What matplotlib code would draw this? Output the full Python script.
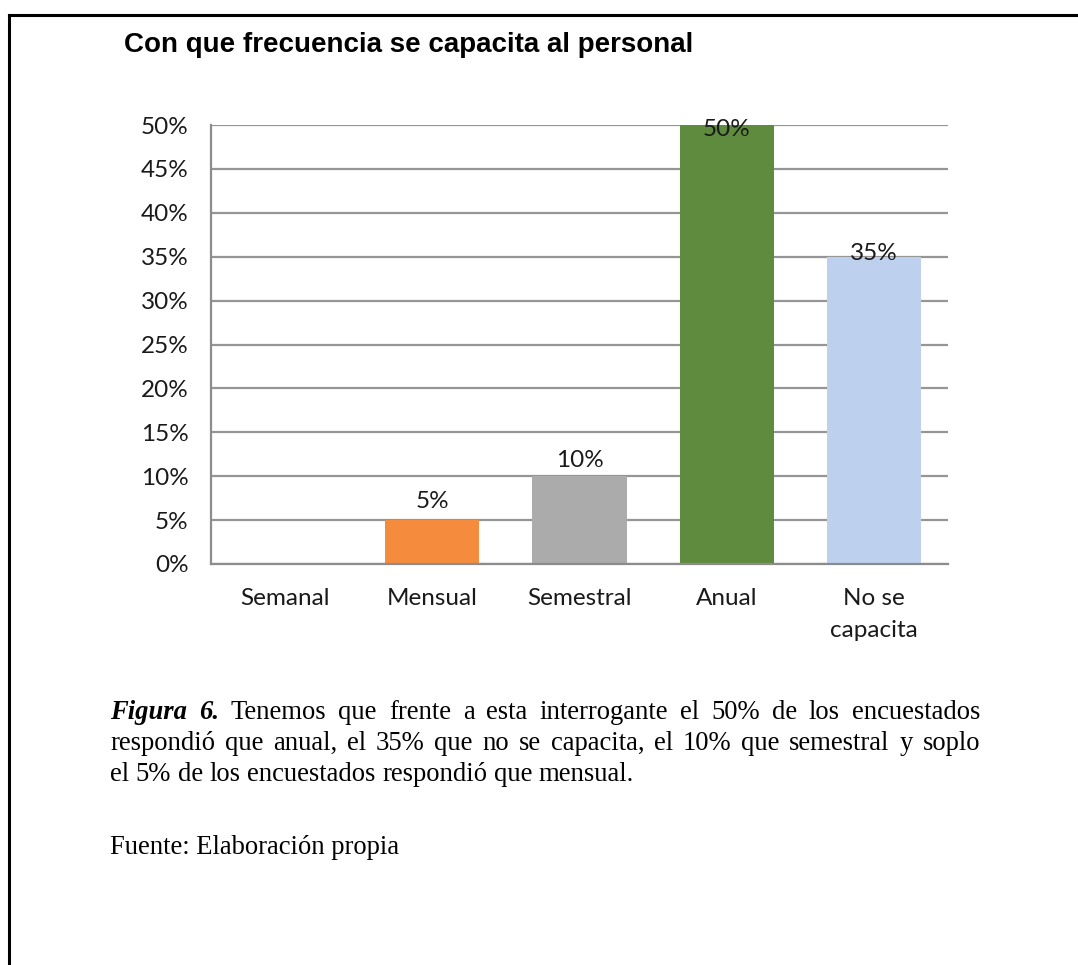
import matplotlib
matplotlib.use("Agg")
import matplotlib.pyplot as plt
from matplotlib.ticker import FuncFormatter, MultipleLocator
from matplotlib.lines import Line2D

# Survey results: how often staff receive training
categories = ["Semanal", "Mensual", "Semestral", "Anual", "No se\ncapacita"]
values = [0, 5, 10, 50, 35]
bar_colors = ["#4472C4", "#F58B3C", "#ABABAB", "#5E8B3D", "#BDD0EE"]
label_offsets_px = [0, 19, 16, -5, 3]

title = "Con que frecuencia se capacita al personal"
caption_lines = [
    "Tenemos que frente a esta interrogante el 50% de los encuestados",
    "respondió que anual, el 35% que no se capacita, el 10% que semestral y soplo",
    "el 5% de los encuestados respondió que mensual.",
]
caption_lead = "Figura 6."
source = "Fuente: Elaboración propia"

W, H, DPI = 1078, 965, 100
fig = plt.figure(figsize=(W / DPI, H / DPI), dpi=DPI)
fig.patch.set_facecolor("white")

def fx(px):
    return px / W

def fy(py):
    return 1 - py / H

# Page frame (top and left edges)
fig.add_artist(Line2D([fx(9), fx(W)], [fy(15), fy(15)], color="black", lw=2.2,
                      transform=fig.transFigure))
fig.add_artist(Line2D([fx(9), fx(9)], [fy(15), fy(H)], color="black", lw=2.2,
                      transform=fig.transFigure))

ax = fig.add_axes([fx(211), fy(564), fx(948) - fx(211), fy(125) - fy(564)])
x = range(len(categories))
bars = ax.bar(x, values, width=0.64, color=bar_colors, zorder=3)

ax.set_ylim(0, 50)
ax.set_xlim(-0.5, len(categories) - 0.5)
ax.yaxis.set_major_locator(MultipleLocator(5))
ax.yaxis.set_major_formatter(FuncFormatter(lambda v, p: f"{v:.0f}%"))
ax.grid(axis="y", color="#959595", lw=1.6, zorder=0)
ax.set_axisbelow(True)
for s in ["top", "right"]:
    ax.spines[s].set_visible(False)
for s in ["left", "bottom"]:
    ax.spines[s].set_color("#8C8C8C")
    ax.spines[s].set_linewidth(1.6)
    ax.spines[s].set_zorder(4)

tick_font = dict(family="Lato", size=17.5, color="#1a1a1a")
ax.set_xticks(list(x))
ax.set_xticklabels(categories, **tick_font, linespacing=1.65)
for lbl in ax.get_yticklabels():
    lbl.set_fontfamily("Lato")
    lbl.set_fontsize(17.5)
    lbl.set_color("#1a1a1a")
ax.tick_params(axis="both", length=0)
ax.tick_params(axis="y", pad=16)
ax.tick_params(axis="x", pad=17)

for rect, v, off in zip(bars, values, label_offsets_px):
    if v == 0:
        continue
    ax.annotate(f"{v}%", (rect.get_x() + rect.get_width() / 2, v),
                xytext=(0, off), textcoords="offset pixels",
                ha="center", va="center", zorder=5, **tick_font)

fig.text(fx(124), fy(52), title, family="Liberation Sans", weight="bold",
         size=20, ha="left", va="baseline", color="black")

# Justified caption paragraph
renderer = fig.canvas.get_renderer()
serif = dict(family="Liberation Serif", size=19.2, color="black")
left, right = 110, 980
baselines = [719, 750, 781]

def word_width(t):
    bb = t.get_window_extent(renderer=renderer)
    return bb.width

for i, line in enumerate(caption_lines):
    words = []
    if i == 0:
        for w in caption_lead.split():
            words.append((w, dict(weight="bold", style="italic")))
    words += [(w, {}) for w in line.split()]
    texts = [fig.text(0, fy(baselines[i]), w, ha="left", va="baseline", **serif, **st)
             for w, st in words]
    widths = [word_width(t) for t in texts]
    if i < len(caption_lines) - 1:
        gap = (right - left - sum(widths)) / (len(texts) - 1)
    else:
        sp = fig.text(0, 0, "a a", **serif)
        sp2 = fig.text(0, 0, "aa", **serif)
        gap = word_width(sp) - word_width(sp2)
        sp.remove()
        sp2.remove()
    xpos = left
    for t, wdt in zip(texts, widths):
        t.set_x(fx(xpos))
        xpos += wdt + gap

fig.text(fx(left), fy(854), source, ha="left", va="baseline", **serif)

fig.savefig("out.png", dpi=DPI)
